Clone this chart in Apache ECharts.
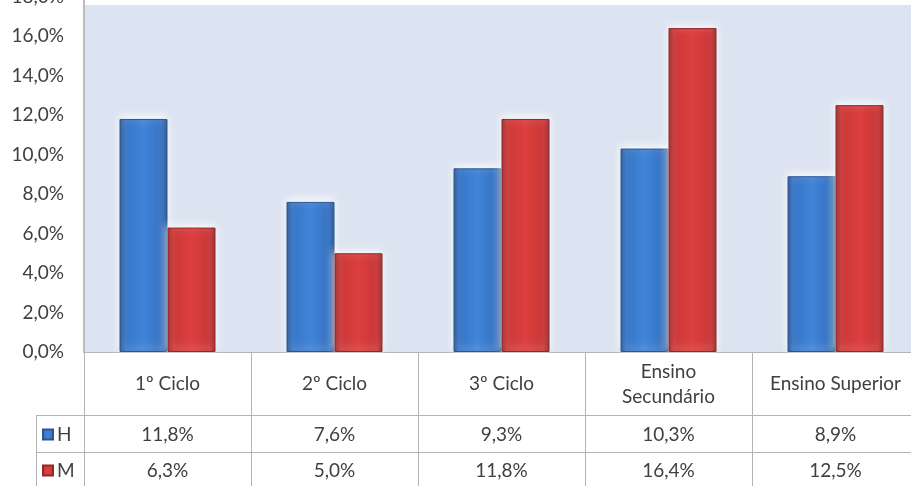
<!DOCTYPE html>
<html>
<head>
<meta charset="utf-8">
<script src="https://cdn.jsdelivr.net/npm/echarts@6/dist/echarts.min.js"></script>
<style>
html,body{margin:0;padding:0;background:#fff}
#c{width:911px;height:486px}
</style>
</head>
<body>
<div id="c"></div>
<script>
// Taxa por nível de ensino, H / M
const categories = ['1º Ciclo', '2º Ciclo', '3º Ciclo', 'Ensino\nSecundário', 'Ensino Superior'];
const seriesNames = ['H', 'M'];
const valuesH = [11.8, 7.6, 9.3, 10.3, 8.9];
const valuesM = [6.3, 5.0, 11.8, 16.4, 12.5];
const yMin = 0, yMax = 18, yStep = 2;

const fmt = v => v.toFixed(1).replace('.', ',') + '%';

const FONT = 'Lato';
const FS = 19;
const TEXT = '#404040';
const LINE = '#b4b4b4';

const blueGrad = new echarts.graphic.LinearGradient(0, 0, 1, 0, [
  { offset: 0, color: '#25528f' },
  { offset: 0.12, color: '#3775c6' },
  { offset: 0.5, color: '#4084d8' },
  { offset: 0.88, color: '#3672c2' },
  { offset: 1, color: '#234d8a' }
]);
const redGrad = new echarts.graphic.LinearGradient(0, 0, 1, 0, [
  { offset: 0, color: '#962424' },
  { offset: 0.12, color: '#cc3838' },
  { offset: 0.5, color: '#dc3f3e' },
  { offset: 0.88, color: '#c83636' },
  { offset: 1, color: '#912222' }
]);

const L = 84, W = 835;

// one table row: a category axis whose labels are the cell texts
function tableAxis(gi, tickLen, margin, formatter) {
  return {
    type: 'category', gridIndex: gi, data: categories, position: 'bottom',
    axisLine: { show: true, lineStyle: { color: LINE, width: 1 } },
    axisTick: { show: true, inside: true, length: tickLen, interval: 0, lineStyle: { color: LINE, width: 1 } },
    axisLabel: {
      show: true, interval: 0, margin: margin, verticalAlign: 'middle',
      fontFamily: FONT, fontSize: FS, lineHeight: 25, color: TEXT,
      formatter: formatter
    },
    splitLine: { show: false }
  };
}
function hiddenY(gi) {
  return { type: 'value', gridIndex: gi, show: false, min: 0, max: 1, splitLine: { show: false } };
}
function gridAt(top, height) {
  return { left: L, width: W, top: top, height: height, containLabel: false, outerBoundsMode: 'none' };
}

const option = {
  animation: false,
  backgroundColor: '#ffffff',
  textStyle: { fontFamily: FONT },
  grid: [gridAt(-3.5, 355.5), gridAt(352, 63), gridAt(415, 37), gridAt(452, 37)],
  legend: {
    orient: 'vertical', left: 42, top: 425, padding: 0,
    itemWidth: 10, itemHeight: 10, itemGap: 17, icon: 'rect',
    textStyle: { fontFamily: FONT, fontSize: FS, lineHeight: 18, color: TEXT, padding: [0, 0, 0, -1] },
    data: seriesNames
  },
  xAxis: [
    {
      type: 'category', gridIndex: 0, data: categories,
      axisLine: { show: true, lineStyle: { color: LINE } },
      axisTick: { show: false }, axisLabel: { show: false }
    },
    tableAxis(1, 63, -31, v => v),
    tableAxis(2, 37, -17, (v, i) => fmt(valuesH[i])),
    tableAxis(3, 37, -18, (v, i) => fmt(valuesM[i]))
  ],
  yAxis: [
    {
      type: 'value', gridIndex: 0, min: yMin, max: yMax, interval: yStep,
      axisLine: { show: true, lineStyle: { color: '#bcbcbc', width: 2 } },
      axisTick: { show: false },
      splitLine: { show: false },
      axisLabel: {
        margin: 20, fontFamily: FONT, fontSize: FS, color: TEXT,
        formatter: v => fmt(v)
      }
    },
    hiddenY(1), hiddenY(2), hiddenY(3)
  ],
  graphic: [
    // plot background
    { type: 'rect', z: -10, silent: true, shape: { x: L, y: 5, width: W, height: 347 }, style: { fill: '#dde4f1' } },
    // legend column borders
    { type: 'line', silent: true, shape: { x1: 36, y1: 415.5, x2: L, y2: 415.5 }, style: { stroke: LINE, lineWidth: 1 } },
    { type: 'line', silent: true, shape: { x1: 36, y1: 452.5, x2: L, y2: 452.5 }, style: { stroke: LINE, lineWidth: 1 } },
    { type: 'line', silent: true, shape: { x1: 36.5, y1: 415, x2: 36.5, y2: 486 }, style: { stroke: LINE, lineWidth: 1 } }
  ],
  series: [
    {
      name: seriesNames[0], type: 'bar', xAxisIndex: 0, yAxisIndex: 0,
      data: valuesH, barWidth: 48, barGap: '0%',
      itemStyle: { color: blueGrad, borderColor: '#2a5592', borderWidth: 1,
        shadowColor: 'rgba(255,255,255,0.9)', shadowBlur: 8, shadowOffsetY: -2 }
    },
    {
      name: seriesNames[1], type: 'bar', xAxisIndex: 0, yAxisIndex: 0,
      data: valuesM, barWidth: 48, barGap: '0%',
      itemStyle: { color: redGrad, borderColor: '#952626', borderWidth: 1,
        shadowColor: 'rgba(255,255,255,0.9)', shadowBlur: 8, shadowOffsetY: -2 }
    }
  ]
};

const chart = echarts.init(document.getElementById('c'), null, { renderer: 'canvas' });
chart.setOption(option);
</script>
</body>
</html>
